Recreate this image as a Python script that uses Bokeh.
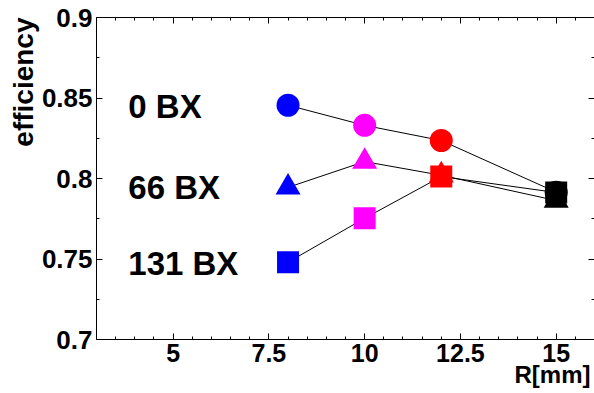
import numpy as np
from bokeh.plotting import figure
from bokeh.models import Label, LinearAxis, FixedTicker, Range1d, Title
from bokeh.embed import file_html
from bokeh.resources import INLINE

# ---- data ----
radius_mm = [8, 10, 12, 15]
series_names = ["0 BX", "66 BX", "131 BX"]
eff_0bx = [0.8455, 0.8330, 0.8236, 0.7915]
eff_66bx = [0.7945, 0.8105, 0.8020, 0.7863]
eff_131bx = [0.7480, 0.7753, 0.8012, 0.7913]
x_tick_values = [5, 7.5, 10, 12.5, 15]
x_tick_labels = ["5", "7.5", "10", "12.5", "15"]
y_tick_values = [0.7, 0.75, 0.8, 0.85, 0.9]
y_tick_labels = ["0.7", "0.75", "0.8", "0.85", "0.9"]
x_title = "R[mm]"
y_title = "efficiency"

# ---- style ----
FONT = "Liberation Sans"
point_colors = ["#0000ff", "#ff00ff", "#ff0000", "#000000"]
markers = ["circle", "triangle", "square"]
marker_sizes = [23, 25, 22]
label_y = [0.8445, 0.7945, 0.7472]

p = figure(width=594, height=393, output_backend="svg", toolbar_location=None,
           x_range=Range1d(3, 16), y_range=Range1d(0.7, 0.9),
           min_border_left=96, min_border_top=17, min_border_bottom=54,
           min_border_right=0, x_axis_location=None, y_axis_location=None)
p.grid.visible = False
p.outline_line_color = None
p.background_fill_color = "white"
p.border_fill_color = "white"

x_minor = list(np.arange(3.0, 16.01, 0.5))
y_minor = list(np.round(np.arange(0.7, 0.9001, 0.025), 4))


def make_axis(is_x, show_labels):
    ax = LinearAxis()
    vals = x_tick_values if is_x else y_tick_values
    labs = x_tick_labels if is_x else y_tick_labels
    ax.ticker = FixedTicker(ticks=vals, minor_ticks=x_minor if is_x else y_minor)
    ax.axis_line_color = "black"
    ax.axis_line_width = 1
    ax.major_tick_in = 6
    ax.major_tick_out = 0
    ax.minor_tick_in = 3
    ax.minor_tick_out = 0
    ax.major_tick_line_color = "black"
    ax.minor_tick_line_color = "black"
    if show_labels:
        ax.major_label_overrides = {v: s for v, s in zip(vals, labs)}
        ax.major_label_text_font = FONT
        ax.major_label_text_font_style = "bold"
        ax.major_label_text_color = "black"
        ax.major_label_text_font_size = "25px" if is_x else "26px"
        ax.major_label_standoff = 4
    else:
        ax.major_label_overrides = {v: "" for v in vals}
        ax.major_label_text_font_size = "1px"
        ax.major_label_standoff = 0
    return ax


p.add_layout(make_axis(True, True), "below")
p.add_layout(make_axis(False, True), "left")
p.add_layout(make_axis(True, False), "above")
p.add_layout(make_axis(False, False), "right")

# axis titles, ROOT style at the far end of each axis
p.add_layout(Title(text=x_title, align="right", text_font=FONT, text_font_style="bold",
                   text_font_size="24px", text_color="black", standoff=-12, offset=4), "below")
p.add_layout(Title(text=y_title, align="right", text_font=FONT, text_font_style="bold",
                   text_font_size="28px", text_color="black", standoff=0), "left")

series = [eff_0bx, eff_66bx, eff_131bx]
for ys in series:
    p.line(radius_mm, ys, line_color="black", line_width=1)
for ys, mk, sz in zip(series, markers, marker_sizes):
    p.scatter(radius_mm, ys, marker=mk, size=sz, fill_color=point_colors,
              line_color=point_colors, line_width=0)

for name, ly in zip(series_names, label_y):
    p.add_layout(Label(x=3.83, y=ly, text=name, text_font=FONT, text_font_style="bold",
                       text_font_size="33px", text_baseline="middle", text_align="left",
                       text_color="black"))

open("out.html", "w").write(file_html(p, INLINE))
